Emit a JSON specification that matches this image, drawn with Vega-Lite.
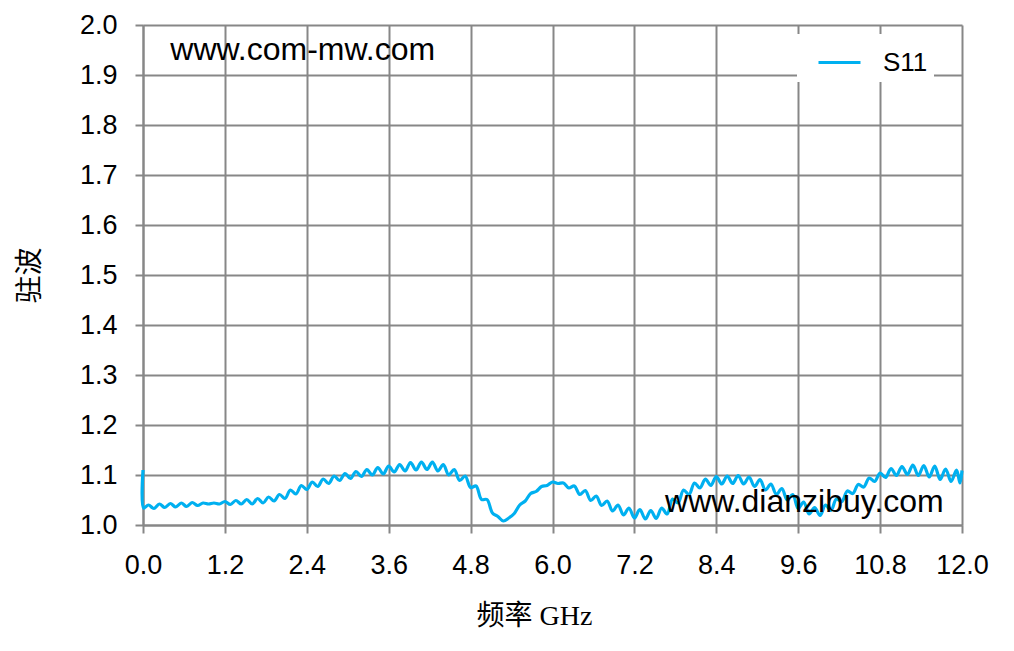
{
  "$schema": "https://vega.github.io/schema/vega-lite/v6.json",
  "width": 819,
  "height": 500,
  "autosize": "none",
  "padding": {"left": 143, "top": 25, "right": 52, "bottom": 126},
  "background": "white",
  "config": {
    "view": {"stroke": null},
    "axis": {
      "gridColor": "#878787",
      "gridWidth": 2,
      "gridOpacity": 1,
      "domainColor": "#878787",
      "domainWidth": 2,
      "tickColor": "#878787",
      "tickWidth": 2,
      "tickSize": 8,
      "labelFont": "Liberation Sans",
      "labelFontSize": 27,
      "labelColor": "#000000",
      "labelFlush": false,
      "titleColor": "#000000",
      "titleFont": "Liberation Serif, Noto Sans CJK SC",
      "titleFontWeight": "normal",
      "titleFontSize": 28
    }
  },
  "datasets": {
    "s11": [
      {"f":0,"v":1.11},{"f":0.01,"v":1.034},{"f":0.08,"v":1.040},{"f":0.16,"v":1.033},{"f":0.24,"v":1.042},{"f":0.32,"v":1.035},{"f":0.40,"v":1.043},{"f":0.48,"v":1.036},{"f":0.56,"v":1.044},{"f":0.64,"v":1.037},{"f":0.72,"v":1.045},{"f":0.80,"v":1.039},{"f":0.88,"v":1.044},{"f":0.96,"v":1.042},{"f":1.04,"v":1.044},{"f":1.12,"v":1.042},{"f":1.20,"v":1.047},{"f":1.28,"v":1.041},{"f":1.36,"v":1.049},{"f":1.44,"v":1.042},{"f":1.52,"v":1.051},{"f":1.60,"v":1.042},{"f":1.68,"v":1.053},{"f":1.76,"v":1.044},{"f":1.84,"v":1.056},{"f":1.92,"v":1.048},{"f":2.00,"v":1.061},{"f":2.08,"v":1.053},{"f":2.16,"v":1.070},{"f":2.24,"v":1.062},{"f":2.32,"v":1.079},{"f":2.40,"v":1.071},{"f":2.48,"v":1.086},{"f":2.56,"v":1.077},{"f":2.64,"v":1.092},{"f":2.72,"v":1.083},{"f":2.80,"v":1.098},{"f":2.88,"v":1.089},{"f":2.96,"v":1.103},{"f":3.04,"v":1.093},{"f":3.12,"v":1.107},{"f":3.20,"v":1.097},{"f":3.28,"v":1.111},{"f":3.36,"v":1.100},{"f":3.44,"v":1.115},{"f":3.52,"v":1.102},{"f":3.60,"v":1.118},{"f":3.68,"v":1.106},{"f":3.76,"v":1.121},{"f":3.84,"v":1.108},{"f":3.92,"v":1.125},{"f":4.00,"v":1.110},{"f":4.08,"v":1.126},{"f":4.16,"v":1.111},{"f":4.24,"v":1.126},{"f":4.32,"v":1.108},{"f":4.40,"v":1.121},{"f":4.48,"v":1.100},{"f":4.56,"v":1.111},{"f":4.64,"v":1.089},{"f":4.72,"v":1.098},{"f":4.80,"v":1.075},{"f":4.88,"v":1.078},{"f":4.96,"v":1.051},{"f":5.04,"v":1.051},{"f":5.12,"v":1.024},{"f":5.20,"v":1.017},{"f":5.28,"v":1.008},{"f":5.36,"v":1.014},{"f":5.44,"v":1.023},{"f":5.52,"v":1.040},{"f":5.60,"v":1.048},{"f":5.68,"v":1.063},{"f":5.76,"v":1.067},{"f":5.84,"v":1.077},{"f":5.92,"v":1.079},{"f":6.00,"v":1.086},{"f":6.08,"v":1.083},{"f":6.16,"v":1.084},{"f":6.24,"v":1.074},{"f":6.32,"v":1.078},{"f":6.40,"v":1.061},{"f":6.48,"v":1.069},{"f":6.56,"v":1.049},{"f":6.64,"v":1.058},{"f":6.72,"v":1.039},{"f":6.80,"v":1.048},{"f":6.88,"v":1.028},{"f":6.96,"v":1.040},{"f":7.04,"v":1.020},{"f":7.12,"v":1.034},{"f":7.20,"v":1.014},{"f":7.28,"v":1.031},{"f":7.36,"v":1.012},{"f":7.44,"v":1.029},{"f":7.52,"v":1.013},{"f":7.60,"v":1.034},{"f":7.68,"v":1.022},{"f":7.76,"v":1.052},{"f":7.84,"v":1.044},{"f":7.92,"v":1.070},{"f":8.00,"v":1.061},{"f":8.08,"v":1.084},{"f":8.16,"v":1.074},{"f":8.24,"v":1.092},{"f":8.32,"v":1.079},{"f":8.40,"v":1.097},{"f":8.48,"v":1.082},{"f":8.56,"v":1.098},{"f":8.64,"v":1.083},{"f":8.72,"v":1.099},{"f":8.80,"v":1.082},{"f":8.88,"v":1.096},{"f":8.96,"v":1.077},{"f":9.04,"v":1.091},{"f":9.12,"v":1.070},{"f":9.20,"v":1.082},{"f":9.28,"v":1.061},{"f":9.36,"v":1.073},{"f":9.44,"v":1.050},{"f":9.52,"v":1.061},{"f":9.60,"v":1.033},{"f":9.68,"v":1.046},{"f":9.76,"v":1.022},{"f":9.84,"v":1.035},{"f":9.92,"v":1.019},{"f":10.00,"v":1.040},{"f":10.08,"v":1.029},{"f":10.16,"v":1.052},{"f":10.24,"v":1.047},{"f":10.32,"v":1.068},{"f":10.40,"v":1.063},{"f":10.48,"v":1.081},{"f":10.56,"v":1.076},{"f":10.64,"v":1.094},{"f":10.72,"v":1.087},{"f":10.80,"v":1.104},{"f":10.88,"v":1.095},{"f":10.96,"v":1.113},{"f":11.04,"v":1.099},{"f":11.12,"v":1.117},{"f":11.20,"v":1.101},{"f":11.28,"v":1.120},{"f":11.36,"v":1.099},{"f":11.44,"v":1.119},{"f":11.52,"v":1.096},{"f":11.60,"v":1.118},{"f":11.68,"v":1.091},{"f":11.76,"v":1.112},{"f":11.84,"v":1.087},{"f":11.92,"v":1.110},{"f":11.97,"v":1.084},{"f":12.00,"v":1.109}
    ],
    "notes": [
      {"f":0.40,"v":1.95,"t":"www.com-mw.com"},
      {"f":7.65,"v":1.047,"t":"www.dianzibuy.com"}
    ]
  },
  "layer": [
    {
      "data": {"name": "s11"},
      "mark": {"type": "line", "interpolate": "catmull-rom", "strokeWidth": 3.2},
      "encoding": {
        "x": {
          "field": "f", "type": "quantitative",
          "scale": {"domain": [0, 12], "nice": false, "zero": false},
          "axis": {
            "values": [0, 1.2, 2.4, 3.6, 4.8, 6.0, 7.2, 8.4, 9.6, 10.8, 12.0],
            "format": ".1f",
            "title": "频率 GHz",
            "labelPadding": 19,
            "titleX": 391,
            "titleY": 91,
            "titleBaseline": "middle",
            "titleAlign": "center"
          }
        },
        "y": {
          "field": "v", "type": "quantitative",
          "scale": {"domain": [1, 2], "nice": false, "zero": false},
          "axis": {
            "values": [1.0, 1.1, 1.2, 1.3, 1.4, 1.5, 1.6, 1.7, 1.8, 1.9, 2.0],
            "format": ".1f",
            "title": "驻波",
            "labelPadding": 18,
            "titleX": -113,
            "titleY": 250,
            "titleAngle": -90,
            "titleBaseline": "middle",
            "titleAlign": "center"
          }
        },
        "color": {
          "datum": "S11",
          "type": "nominal",
          "scale": {"range": ["#00B0F0"]},
          "legend": {
            "title": null,
            "orient": "none",
            "legendX": 654,
            "legendY": 9,
            "fillColor": "white",
            "strokeColor": null,
            "padding": 6,
            "symbolType": "stroke",
            "symbolSize": 1764,
            "symbolStrokeWidth": 3,
            "symbolOffset": 14,
            "labelOffset": 21,
            "labelFont": "Liberation Sans",
            "labelFontSize": 26,
            "labelColor": "#000000"
          }
        }
      }
    },
    {
      "data": {"name": "notes"},
      "mark": {"type": "text", "align": "left", "baseline": "middle", "font": "Liberation Sans", "fontSize": 32, "color": "#000000"},
      "encoding": {
        "x": {"field": "f", "type": "quantitative"},
        "y": {"field": "v", "type": "quantitative"},
        "text": {"field": "t"}
      }
    }
  ]
}
